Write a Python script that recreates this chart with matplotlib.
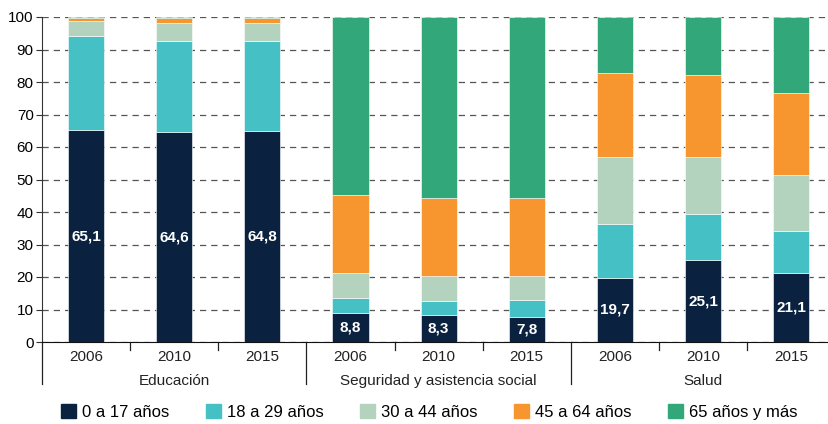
"""Age composition of public spending by sector, stacked percent bars."""

import matplotlib.pyplot as plt
from matplotlib import font_manager
from matplotlib.lines import Line2D

sectors = ["Educación", "Seguridad y asistencia social", "Salud"]
years = ["2006", "2010", "2015"]
age_groups = ["0 a 17 años", "18 a 29 años", "30 a 44 años", "45 a 64 años", "65 años y más"]
colors = ["#0a2240", "#45c1c5", "#b3d3be", "#f7952f", "#31a77a"]

# one list per age group, bars ordered sector by sector, year by year
age_0_17 = [65.1, 64.6, 64.8, 8.8, 8.3, 7.8, 19.7, 25.1, 21.1]
age_18_29 = [29.1, 28.0, 27.8, 4.8, 4.3, 5.2, 16.6, 14.2, 13.1]
age_30_44 = [4.6, 5.6, 5.6, 7.6, 7.6, 7.2, 20.6, 17.6, 17.3]
age_45_64 = [0.9, 1.5, 1.5, 24.1, 24.2, 24.2, 25.9, 25.3, 25.1]
age_65_plus = [0.3, 0.3, 0.3, 54.7, 55.6, 55.6, 17.2, 17.8, 23.4]
labelled = ["65,1", "64,6", "64,8", "8,8", "8,3", "7,8", "19,7", "25,1", "21,1"]

series = [age_0_17, age_18_29, age_30_44, age_45_64, age_65_plus]

names = {f.name for f in font_manager.fontManager.ttflist}
family = "Liberation Sans Narrow" if "Liberation Sans Narrow" in names else "Liberation Sans"
plt.rcParams["font.family"] = [family, "DejaVu Sans"]

fig = plt.figure(figsize=(8.29, 4.24), dpi=100)
ax = fig.add_axes([42 / 829, 82 / 424, 1 - 42 / 829, 325 / 424])

x = list(range(len(age_0_17)))
bottom = [0.0] * len(x)
for vals, color in zip(series, colors):
    ax.bar(x, vals, bottom=bottom, width=0.41, color=color,
           edgecolor="white", linewidth=0.4, zorder=3)
    bottom = [b + v for b, v in zip(bottom, vals)]

for xi, v, txt in zip(x, age_0_17, labelled):
    ax.text(xi, v / 2, txt, ha="center", va="center", color="white",
            fontsize=11, fontweight="bold", zorder=4)

ax.set_xlim(-0.5, 8.43)
ax.set_ylim(0, 100)
ax.set_yticks(range(0, 101, 10))
ax.tick_params(axis="y", labelsize=11, length=4, color="#333333", pad=2)
ax.yaxis.grid(True, linestyle=(0, (5, 4)), color="#555555", linewidth=0.9, zorder=0)
ax.set_xticks([])

for side in ["top", "right"]:
    ax.spines[side].set_visible(False)
ax.spines["left"].set_color("#333333")
ax.spines["bottom"].set_color("#111111")

# year labels, minor separators and sector labels below the axis
trans = ax.get_xaxis_transform()
for i, xi in enumerate(x):
    ax.text(xi, -0.025, years[i % 3], transform=trans, ha="center", va="top",
            fontsize=11, color="#222222")
for k in range(len(x)):
    sep = k - 0.5
    depth = -0.13 if k % 3 == 0 else -0.025
    ax.add_line(Line2D([sep, sep], [0, depth], transform=trans, color="#222222",
                       linewidth=0.9, clip_on=False))
for j, name in enumerate(sectors):
    ax.text(3 * j + 1, -0.098, name, transform=trans, ha="center", va="top",
            fontsize=11, color="#222222")

handles = [plt.Rectangle((0, 0), 1, 1, color=c) for c in colors]
fig.legend(handles, age_groups, loc="lower center", bbox_to_anchor=(0.518, -0.025),
           ncol=5, frameon=False, fontsize=12, handlelength=0.9, handleheight=0.9,
           handletextpad=0.35, columnspacing=2.2)

fig.savefig("out.png", dpi=100)
